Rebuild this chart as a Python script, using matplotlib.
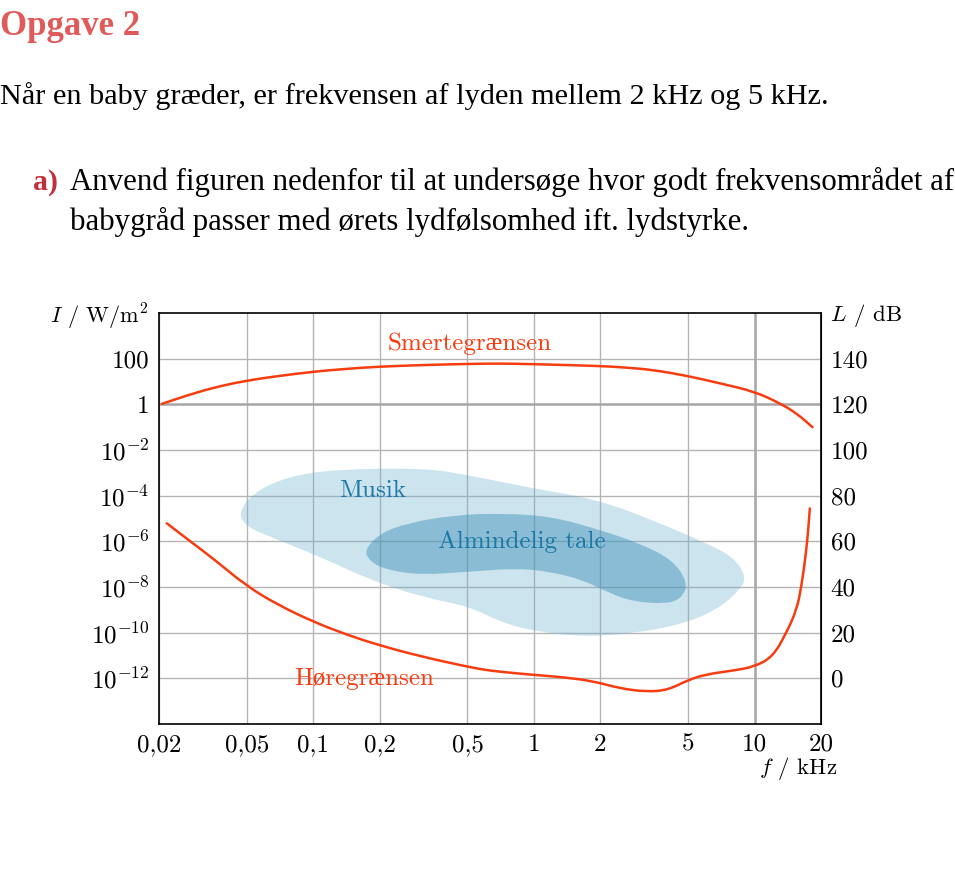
import numpy as np
import matplotlib
matplotlib.use('Agg')
import matplotlib.pyplot as plt
from matplotlib.path import Path
from matplotlib.patches import PathPatch

plt.rcParams['mathtext.fontset'] = 'cm'
plt.rcParams['font.family'] = ['cmr10', 'Liberation Serif']
plt.rcParams['axes.unicode_minus'] = False

# frequency in kHz, level in dB
pain_f = [0.0206, 0.0272, 0.0359, 0.0499, 0.0694, 0.1, 0.139, 0.197, 0.31, 0.5, 0.7, 1.0, 2.0, 2.54, 3.47, 5.0, 6.97, 10.0, 13.0, 15.5, 18.3]
pain_db = [120.2, 124.1, 127.5, 130.4, 132.4, 134.3, 135.5, 136.5, 137.2, 137.7, 137.9, 137.6, 136.8, 136.2, 135.1, 132.4, 129.2, 125.6, 120.5, 116.1, 110.0]

hear_f = [0.0217, 0.0272, 0.0359, 0.0499, 0.0694, 0.1, 0.139, 0.197, 0.31, 0.5, 0.6, 0.70, 1.0, 1.36, 1.85, 2.45, 3.24, 4.06, 5.0, 6.06, 8.0, 10.0, 12.1, 13.9, 15.5, 16.3, 17.1, 17.5, 17.8]
hear_db = [67.9, 60.6, 51.8, 40.4, 32.1, 24.8, 19.4, 14.6, 9.5, 5.1, 3.7, 2.9, 1.5, 0.5, -1.2, -4.4, -5.9, -5.1, -0.7, 1.8, 3.4, 5.1, 9.5, 19.7, 29.9, 40.1, 54.8, 65.0, 74.4]

music_f = [0.0457, 0.0533, 0.0758, 0.1277, 0.327, 0.496, 0.993, 1.99, 3.72, 6.06, 7.98, 9.20, 8.58, 6.73, 4.59, 2.81, 1.67, 0.99, 0.702, 0.513, 0.305, 0.181, 0.107, 0.0637, 0.0499]
music_db = [72.3, 81.2, 88.3, 91.6, 92.0, 89.1, 83.2, 78.1, 68.0, 59.1, 53.3, 44.5, 38.7, 29.9, 23.4, 19.7, 18.2, 20.7, 24.7, 31.4, 35.8, 43.1, 53.3, 62.0, 66.4]

speech_f = [0.170, 0.201, 0.265, 0.431, 0.726, 1.22, 1.99, 3.02, 4.27, 5.00, 4.67, 3.99, 2.82, 2.21, 1.67, 1.18, 0.835, 0.513, 0.305, 0.215, 0.181]
speech_db = [56.2, 63.5, 67.9, 71.5, 72.3, 70.8, 65.0, 59.1, 51.8, 41.6, 35.1, 32.6, 33.6, 37.2, 43.1, 46.7, 48.2, 46.7, 45.3, 47.5, 51.1]

x_ticks = [0.02, 0.05, 0.1, 0.2, 0.5, 1, 2, 5, 10, 20]
x_labels = ['0,02', '0,05', '0,1', '0,2', '0,5', '1', '2', '5', '10', '20']
db_ticks = [0, 20, 40, 60, 80, 100, 120, 140]
i_labels = [r'$10^{-12}$', r'$10^{-10}$', r'$10^{-8}$', r'$10^{-6}$', r'$10^{-4}$', r'$10^{-2}$', '1', '100']
db_labels = ['0', '20', '40', '60', '80', '100', '120', '140']

red = '#f83c10'
blue_txt = '#1b77a6'
W, H = 955, 880


def mid(f1, d1, f2, d2):
    return (np.sqrt(f1 * f2), (d1 + d2) / 2)


def blob(fs, dbs, **kw):
    # closed smooth outline: read points used as quadratic bezier controls
    n = len(fs)
    mids = [mid(fs[i], dbs[i], fs[(i + 1) % n], dbs[(i + 1) % n]) for i in range(n)]
    verts = [mids[-1]]
    codes = [Path.MOVETO]
    for i in range(n):
        verts += [(fs[i], dbs[i]), mids[i]]
        codes += [Path.CURVE3, Path.CURVE3]
    verts.append(mids[-1])
    codes.append(Path.CLOSEPOLY)
    return PathPatch(Path(verts, codes), **kw)


def curve(fs, dbs, **kw):
    # open smooth line through the read points
    n = len(fs)
    verts = [(fs[0], dbs[0]), mid(fs[0], dbs[0], fs[1], dbs[1])]
    codes = [Path.MOVETO, Path.LINETO]
    for i in range(1, n - 1):
        verts += [(fs[i], dbs[i]), mid(fs[i], dbs[i], fs[i + 1], dbs[i + 1])]
        codes += [Path.CURVE3, Path.CURVE3]
    verts.append((fs[-1], dbs[-1]))
    codes.append(Path.LINETO)
    return PathPatch(Path(verts, codes), fill=False, **kw)


fig = plt.figure(figsize=(W / 100, H / 100), dpi=100)

def ptext(x, y, s, **kw):
    fig.text(x / W, 1 - y / H, s, **kw)

serif = ['Liberation Serif', 'DejaVu Serif']
ptext(0, 35, 'Opgave 2', color='#e05a5a', fontsize=25, fontweight='bold', family=serif, va='baseline')
ptext(0, 104, 'Når en baby græder, er frekvensen af lyden mellem 2 kHz og 5 kHz.', fontsize=21.8, family=serif, va='baseline')
ptext(33, 190, 'a)', color='#c0303a', fontsize=21.5, fontweight='bold', family=serif, va='baseline')
ptext(70, 190, 'Anvend figuren nedenfor til at undersøge hvor godt frekvensområdet af', fontsize=22.2, family=serif, va='baseline')
ptext(70, 230, 'babygråd passer med ørets lydfølsomhed ift. lydstyrke.', fontsize=22.2, family=serif, va='baseline')

ax = fig.add_axes([159 / W, 1 - 724 / H, (821 - 159) / W, (724 - 313) / H])
ax.set_xscale('log')
ax.set_xlim(0.02, 20)
ax.set_ylim(-20, 160)

ax.add_patch(blob(music_f, music_db, fc='#6fb3cf', alpha=0.35, ec='none', zorder=1))
ax.add_patch(blob(speech_f, speech_db, fc='#3a8fb7', alpha=0.45, ec='none', zorder=1.1))
ax.add_patch(curve(pain_f, pain_db, ec=red, lw=1.8, zorder=3, capstyle='round'))
ax.add_patch(curve(hear_f, hear_db, ec=red, lw=1.8, zorder=3, capstyle='round'))

ax.set_xticks(x_ticks)
ax.set_xticklabels(x_labels)
ax.xaxis.set_minor_locator(matplotlib.ticker.NullLocator())
ax.set_yticks(db_ticks)
ax.set_yticklabels(i_labels)
ax.tick_params(length=0, labelsize=18)
ax.tick_params(axis='x', pad=7)
ax.tick_params(axis='y', pad=7)
ax.set_axisbelow(True)
ax.grid(True, color='#b5b5b5', lw=1.0)
ax.axhline(120, color='#a8a8a8', lw=1.8, zorder=0.6)
ax.axvline(10, color='#a8a8a8', lw=1.8, zorder=0.6)
for sp in ax.spines.values():
    sp.set_linewidth(1.2)

sec = ax.secondary_yaxis('right')
sec.set_yticks(db_ticks)
sec.set_yticklabels(db_labels)
sec.tick_params(length=0, labelsize=18, pad=7)

ax.text(0.512, 144, 'Smertegrænsen', color=red, fontsize=18, ha='center', va='baseline')
ax.text(0.17, -2.8, 'Høregrænsen', color=red, fontsize=18, ha='center', va='baseline')
ax.text(0.185, 79.5, 'Musik', color=blue_txt, fontsize=18, ha='center', va='baseline')
ax.text(0.88, 57.1, 'Almindelig tale', color=blue_txt, fontsize=18, ha='center', va='baseline')

ptext(148, 323, r'$I$ / W/m$^2$', fontsize=16, ha='right', va='baseline')
ptext(830, 321, r'$L$ / dB', fontsize=16.5, ha='left', va='baseline')
ptext(837, 774, r'$f$ / kHz', fontsize=16.5, ha='right', va='baseline')

fig.savefig('out.png', dpi=100)
